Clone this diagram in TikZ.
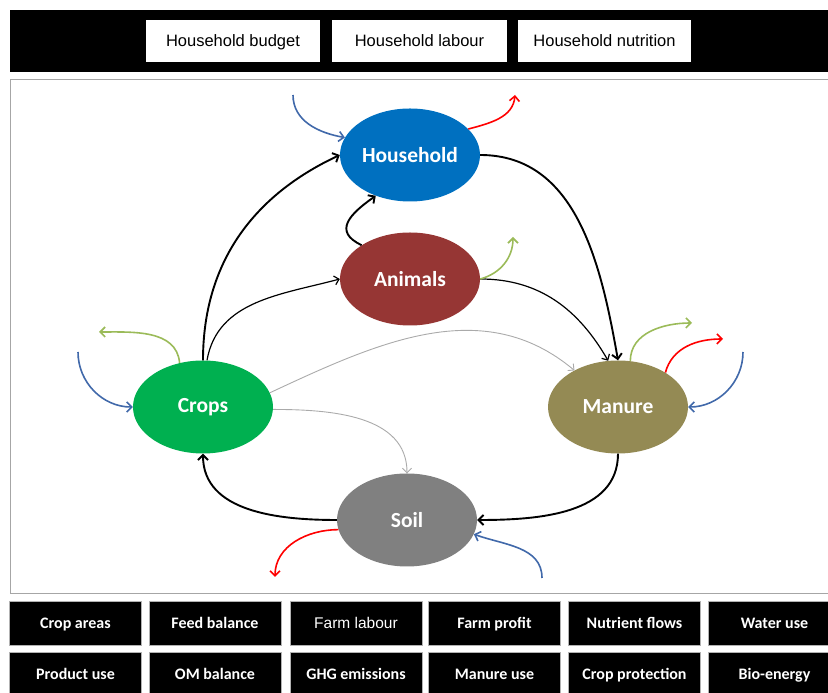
\documentclass[tikz,border=0pt]{standalone}
\usepackage{fontspec}
\setmainfont{Liberation Sans}
\newfontfamily\calibri{Carlito}
\usetikzlibrary{shapes,arrows.meta,positioning}
\definecolor{hhblue}{RGB}{0,112,192}
\definecolor{anred}{RGB}{150,54,52}
\definecolor{crgreen}{RGB}{0,176,80}
\definecolor{maolive}{RGB}{148,138,84}
\definecolor{sogray}{RGB}{128,128,128}
\definecolor{inblue}{RGB}{65,105,170}
\definecolor{outgreen}{RGB}{155,187,89}
\definecolor{outred}{RGB}{255,0,0}
\definecolor{flowgray}{RGB}{170,170,170}
\tikzstyle{Pool} = [ellipse, minimum width=140pt, minimum height=93pt, inner sep=0pt, text=white, font=\calibri\bfseries\fontsize{21.5}{26}\selectfont]
\tikzstyle{TopBox} = [rectangle, fill=white, minimum height=42pt, text height=14.5pt, text depth=3.5pt, font=\fontsize{16.5}{20}\selectfont]
\tikzstyle{Indicator} = [rectangle, fill=black, draw=gray!60, line width=0.6pt, text=white, minimum width=132pt, minimum height=44pt, text height=14pt, text depth=3.5pt, font=\calibri\bfseries\fontsize{16}{19}\selectfont]
\tikzstyle{arrow} = [line width=1.9pt, -{Straight Barb[length=5pt,width=10pt]}]
\tikzstyle{thinarrow} = [line width=1.2pt, -{Straight Barb[length=4.5pt,width=9pt]}]
\tikzstyle{grayarrow} = [line width=0.9pt, flowgray, -{Straight Barb[length=4.5pt,width=9pt]}]
\tikzstyle{flow} = [line width=1.6pt, -{Straight Barb[length=5pt,width=10pt]}]

\begin{document}
\begin{tikzpicture}[x=1pt,y=1pt]
\useasboundingbox (0,0) rectangle (828,693);

\fill[black] (10,621) rectangle (828,683);
\node (Household budget)[TopBox, minimum width=174pt] at (233,652){Household budget};
\node (Household labour)[TopBox, minimum width=175pt] at (419.5,652){Household labour};
\node (Household nutrition)[TopBox, minimum width=173pt] at (604.5,652){Household nutrition};

\draw[gray!70, line width=0.8pt] (10.5,100) rectangle (830,614);

\node (Household)[Pool, fill=hhblue] at (410,538){Household};
\node (Animals)[Pool, fill=anred] at (410,414){Animals};
\node (Crops)[Pool, fill=crgreen] at (203,286){Crops};
\node (Manure)[Pool, fill=maolive] at (618,286){Manure};
\node (Soil)[Pool, fill=sogray] at (407,173){Soil};

\coordinate (Household source) at (293,598);
\coordinate (Household loss) at (515,598);
\coordinate (Animals loss) at (513,456);
\coordinate (Crops loss) at (99,361);
\coordinate (Crops source) at (78,341);
\coordinate (Manure gas) at (692,370);
\coordinate (Manure loss) at (723,354);
\coordinate (Manure source) at (743,341);
\coordinate (Soil loss) at (275,116);
\coordinate (Soil source) at (542,115);

\draw[arrow](Crops.north) to[out=90,in=205] (Household.west);
\draw[thinarrow]([xshift=4pt]Crops.north) to[out=80,in=195] (Animals.west);
\draw[arrow](Animals.145) to[out=155,in=215,looseness=1.6] (Household.230);
\draw[arrow](Household.east) to[out=0,in=100] (Manure.90);
\draw[thinarrow](Animals.east) to[out=0,in=120] (Manure.102);
\draw[grayarrow](Crops.12) to[out=25,in=140] (Manure.140);
\draw[grayarrow](Crops.-2) to[out=0,in=90] (Soil.north);
\draw[arrow](Manure.south) to[out=-90,in=0] (Soil.east);
\draw[arrow](Soil.west) to[out=180,in=-90] (Crops.south);

\draw[flow, inblue](Household source) to[out=-90,in=170] (Household.165);
\draw[flow, outred](Household.24) to[out=15,in=-95] (Household loss);
\draw[flow, outgreen](Animals.east) to[out=15,in=-90] (Animals loss);
\draw[flow, outgreen](Crops.118) to[out=95,in=0] (Crops loss);
\draw[flow, inblue](Crops source) to[out=-90,in=180] (Crops.west);
\draw[flow, outgreen](Manure.75) to[out=90,in=180] (Manure gas);
\draw[flow, outred](Manure.36) to[out=75,in=180] (Manure loss);
\draw[flow, inblue](Manure source) to[out=-90,in=0] (Manure.east);
\draw[flow, outred](Soil.188) to[out=180,in=90] (Soil loss);
\draw[flow, inblue](Soil source) to[out=90,in=-20] (Soil.-12);

\node (Crop areas)[Indicator] at (75.5,70){Crop areas};
\node (Feed balance)[Indicator] at (215,70){Feed balance};
\node (Farm labour)[Indicator, font=\fontsize{15.5}{18}\selectfont] at (356,70){Farm labour};
\node (Farm profit)[Indicator] at (494.5,70){Farm profit};
\node (Nutrient flows)[Indicator] at (634.5,70){Nutrient flows};
\node (Water use)[Indicator] at (774.5,70){Water use};
\node (Product use)[Indicator] at (75.5,19){Product use};
\node (OM balance)[Indicator] at (215,19){OM balance};
\node (GHG emissions)[Indicator] at (356,19){GHG emissions};
\node (Manure use)[Indicator] at (494.5,19){Manure use};
\node (Crop protection)[Indicator] at (634.5,19){Crop protection};
\node (Bio-energy)[Indicator] at (774.5,19){Bio-energy};

\end{tikzpicture}
\end{document}
